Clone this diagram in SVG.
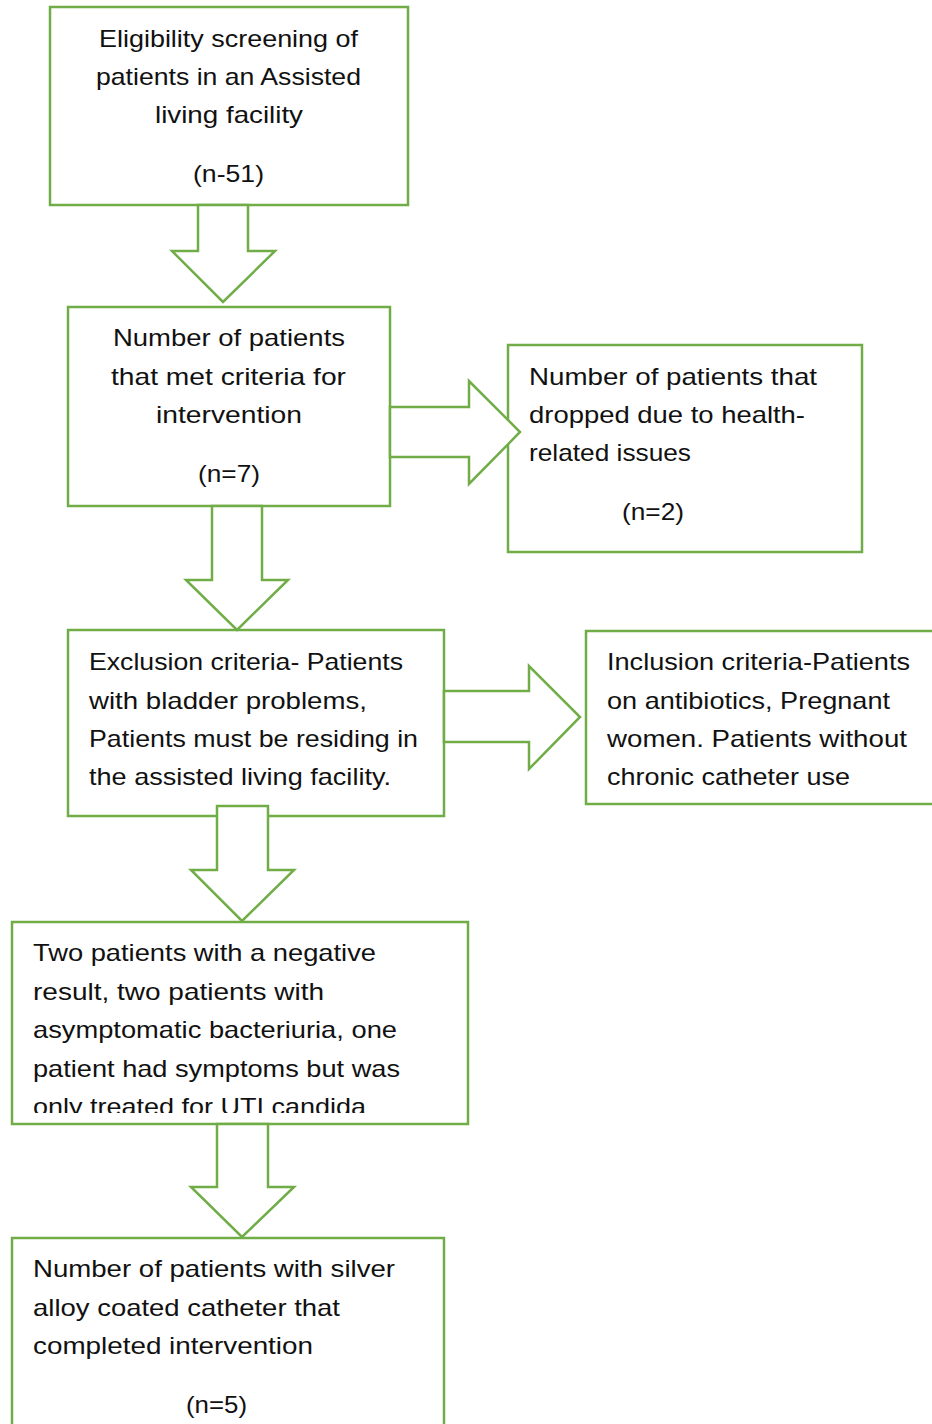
<svg xmlns="http://www.w3.org/2000/svg" width="932" height="1424" viewBox="0 0 932 1424">
<style>
.box{fill:#ffffff;stroke:#70AD47;stroke-width:2.5}
.arr{fill:#ffffff;stroke:#70AD47;stroke-width:2.5;stroke-linejoin:miter}
text{font-family:"Liberation Sans",Arial,sans-serif;font-size:24px;fill:#111111}
</style>
<defs>
<clipPath id="clip6"><rect x="12" y="922" width="456" height="191"/></clipPath>
</defs>
<rect width="932" height="1424" fill="#ffffff"/>
<g id="n1">
<rect class="box" x="50" y="7" width="358" height="198"/>
<text x="99" y="47" textLength="259" lengthAdjust="spacingAndGlyphs">Eligibility screening of</text>
<text x="96" y="85" textLength="265" lengthAdjust="spacingAndGlyphs">patients in an Assisted</text>
<text x="155" y="123" textLength="148" lengthAdjust="spacingAndGlyphs">living facility</text>
<text x="193" y="182" textLength="71" lengthAdjust="spacingAndGlyphs">(n-51)</text>
</g>
<g id="n2">
<rect class="box" x="68" y="307" width="322" height="199"/>
<text x="113" y="346" textLength="232" lengthAdjust="spacingAndGlyphs">Number of patients</text>
<text x="111" y="385" textLength="235" lengthAdjust="spacingAndGlyphs">that met criteria for</text>
<text x="156" y="423" textLength="146" lengthAdjust="spacingAndGlyphs">intervention</text>
<text x="198" y="482" textLength="62" lengthAdjust="spacingAndGlyphs">(n=7)</text>
</g>
<g id="n3">
<rect class="box" x="508" y="345" width="354" height="207"/>
<text x="529" y="385" textLength="288" lengthAdjust="spacingAndGlyphs">Number of patients that</text>
<text x="529" y="423" textLength="276" lengthAdjust="spacingAndGlyphs">dropped due to health-</text>
<text x="529" y="461" textLength="162" lengthAdjust="spacingAndGlyphs">related issues</text>
<text x="622" y="520" textLength="62" lengthAdjust="spacingAndGlyphs">(n=2)</text>
</g>
<g id="n4">
<rect class="box" x="68" y="630" width="376" height="186"/>
<text x="89" y="670" textLength="314" lengthAdjust="spacingAndGlyphs">Exclusion criteria- Patients</text>
<text x="89" y="709" textLength="278" lengthAdjust="spacingAndGlyphs">with bladder problems,</text>
<text x="89" y="747" textLength="329" lengthAdjust="spacingAndGlyphs">Patients must be residing in</text>
<text x="89" y="785" textLength="302" lengthAdjust="spacingAndGlyphs">the assisted living facility.</text>
</g>
<g id="n5">
<rect class="box" x="586" y="631" width="360" height="173"/>
<text x="607" y="670" textLength="303" lengthAdjust="spacingAndGlyphs">Inclusion criteria-Patients</text>
<text x="607" y="709" textLength="283" lengthAdjust="spacingAndGlyphs">on antibiotics, Pregnant</text>
<text x="607" y="747" textLength="300" lengthAdjust="spacingAndGlyphs">women. Patients without</text>
<text x="607" y="785" textLength="243" lengthAdjust="spacingAndGlyphs">chronic catheter use</text>
</g>
<g id="n6">
<rect class="box" x="12" y="922" width="456" height="202"/>
<g clip-path="url(#clip6)">
<text x="33" y="961" textLength="343" lengthAdjust="spacingAndGlyphs">Two patients with a negative</text>
<text x="33" y="1000" textLength="291" lengthAdjust="spacingAndGlyphs">result, two patients with</text>
<text x="33" y="1038" textLength="364" lengthAdjust="spacingAndGlyphs">asymptomatic bacteriuria, one</text>
<text x="33" y="1077" textLength="367" lengthAdjust="spacingAndGlyphs">patient had symptoms but was</text>
<text x="33" y="1115" textLength="333" lengthAdjust="spacingAndGlyphs">only treated for UTI candida</text>
</g>
</g>
<g id="n7">
<rect class="box" x="12" y="1238" width="432" height="200"/>
<text x="33" y="1277" textLength="362" lengthAdjust="spacingAndGlyphs">Number of patients with silver</text>
<text x="33" y="1316" textLength="307" lengthAdjust="spacingAndGlyphs">alloy coated catheter that</text>
<text x="33" y="1354" textLength="280" lengthAdjust="spacingAndGlyphs">completed intervention</text>
<text x="186" y="1413" textLength="61" lengthAdjust="spacingAndGlyphs">(n=5)</text>
</g>
<g id="connectors">
<polygon class="arr" points="198,205 248,205 248,251 275,251 223,302 172,251 198,251"/>
<polygon class="arr" points="390,407 469,407 469,381 520,432 469,484 469,457 390,457"/>
<polygon class="arr" points="212,506 262,506 262,580 288,580 237,630 186,580 212,580"/>
<polygon class="arr" points="444,691 529,691 529,666 580,717 529,769 529,742 444,742"/>
<polygon class="arr" points="217,806 268,806 268,870 294,870 242,921 191,870 217,870"/>
<polygon class="arr" points="217,1124 268,1124 268,1187 294,1187 242,1237 191,1187 217,1187"/>
</g>
</svg>
